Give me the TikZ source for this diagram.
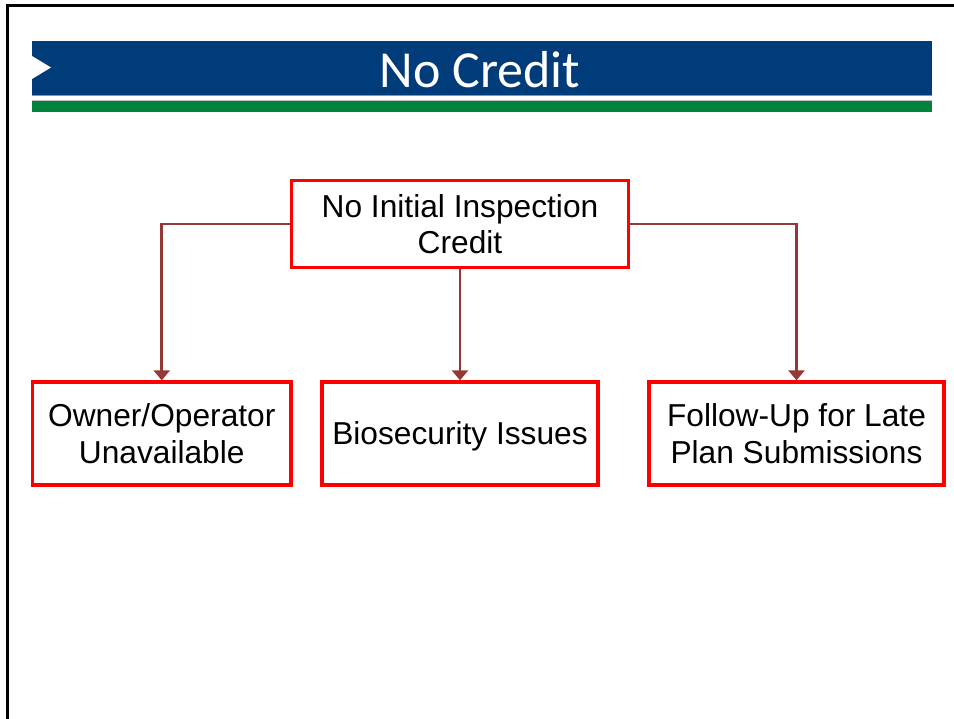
\documentclass[tikz,border=0pt]{standalone}
\usepackage{fontspec}
\setmainfont{Liberation Sans}
\newfontfamily\titlefont{Carlito}
\usetikzlibrary{arrows.meta}
\definecolor{bannerblue}{RGB}{0,59,122}
\definecolor{bannerlight}{RGB}{120,150,195}
\definecolor{bannergreen}{RGB}{0,132,61}
\definecolor{connred}{RGB}{149,55,53}
\tikzset{
  box/.style={draw=red, line width=3.3pt, fill=white, inner sep=0pt, align=center,
    font=\fontsize{31.7}{36.5}\selectfont},
  conn/.style={draw=connred, line width=2.7pt,
    -{Triangle[width=16pt,length=10pt]}},
}
\begin{document}
\begin{tikzpicture}[x=1pt,y=-1pt]
\useasboundingbox (0,0) rectangle (954,719);
\fill[white] (0,0) rectangle (954,719);
% frame
\draw[black, line width=3pt] (7,719) -- (7,5.5) -- (954,5.5);
% banner
\fill[bannerblue] (32,41) rectangle (932,95);
\fill[bannerlight] (32,95) rectangle (932,96.5);
\fill[black!25] (32,100) rectangle (932,101);
\fill[bannergreen] (32,101) rectangle (932,112);
\fill[white] (32,56) -- (51,67.5) -- (32,79) -- cycle;
\node[anchor=base, text=white, font=\titlefont\fontsize{52}{60}\selectfont, inner sep=0pt] (title) at (480,88) {No Credit};
% boxes
\node[box, minimum width=337pt, minimum height=86.5pt] (top) at (460,224) {No Initial Inspection\\Credit};
\node[box, minimum width=258.5pt, minimum height=103pt] (left) at (161.75,433.5) {Owner/Operator\\Unavailable};
\node[box, minimum width=276pt, minimum height=103pt, text depth=0pt] (mid) at (460,433.5) {Biosecurity Issues};
\node[box, minimum width=295pt, minimum height=103pt] (right) at (796.5,433.5) {Follow-Up for Late\\Plan Submissions};
% connectors
\draw[conn] (top.west) -| (left.north);
\draw[conn] (top.south) -- (mid.north);
\draw[conn] (top.east) -| (right.north);
\end{tikzpicture}
\end{document}
